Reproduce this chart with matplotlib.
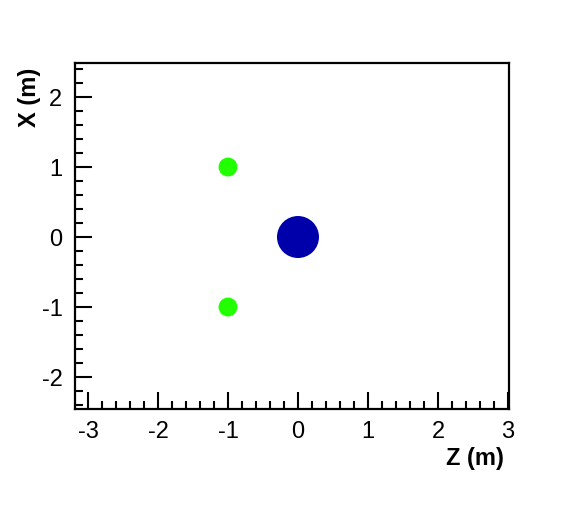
import matplotlib
matplotlib.use("Agg")
import matplotlib.pyplot as plt
from matplotlib.patches import Circle
from matplotlib.ticker import MultipleLocator

plt.rcParams['font.family'] = ['Liberation Sans', 'DejaVu Sans']
plt.rcParams['axes.unicode_minus'] = False

# data
body_z = [0.0]
body_x = [0.0]
body_r = [0.3]
src_z = [-1.0, -1.0]
src_x = [1.0, -1.0]
src_r = [0.135, 0.135]

xticks = [-3, -2, -1, 0, 1, 2, 3]
yticks = [-2, -1, 0, 1, 2]

fig = plt.figure(figsize=(5.79, 5.31), dpi=100)
ax = fig.add_axes([75/579, 1-409/531, 434/579, 346/531])

for z, x, r in zip(body_z, body_x, body_r):
    ax.add_patch(Circle((z, x), r, facecolor='#0000AA', edgecolor='none'))
for z, x, r in zip(src_z, src_x, src_r):
    ax.add_patch(Circle((z, x), r, facecolor='#22FF00', edgecolor='none'))

ax.set_xlim(-3.186, 3.015)
ax.set_ylim(-2.457, 2.486)
ax.set_xticks(xticks)
ax.set_yticks(yticks)
ax.xaxis.set_minor_locator(MultipleLocator(0.2))
ax.yaxis.set_minor_locator(MultipleLocator(0.2))
ax.tick_params(which='both', direction='in', top=False, right=False, width=1.5, labelsize=17)
ax.tick_params(which='major', length=12)
ax.tick_params(which='minor', length=6)
ax.tick_params(axis='x', pad=9)
ax.tick_params(axis='y', pad=9)
for s in ax.spines.values():
    s.set_linewidth(1.6)

fig.text(475/579, 1-458/531, 'Z (m)', ha='center', va='center', fontsize=17, fontweight='bold')
fig.text(30/579, 1-97/531, 'X (m)', ha='center', va='center', fontsize=17, fontweight='bold', rotation=90)

fig.savefig('out.png', dpi=100)
